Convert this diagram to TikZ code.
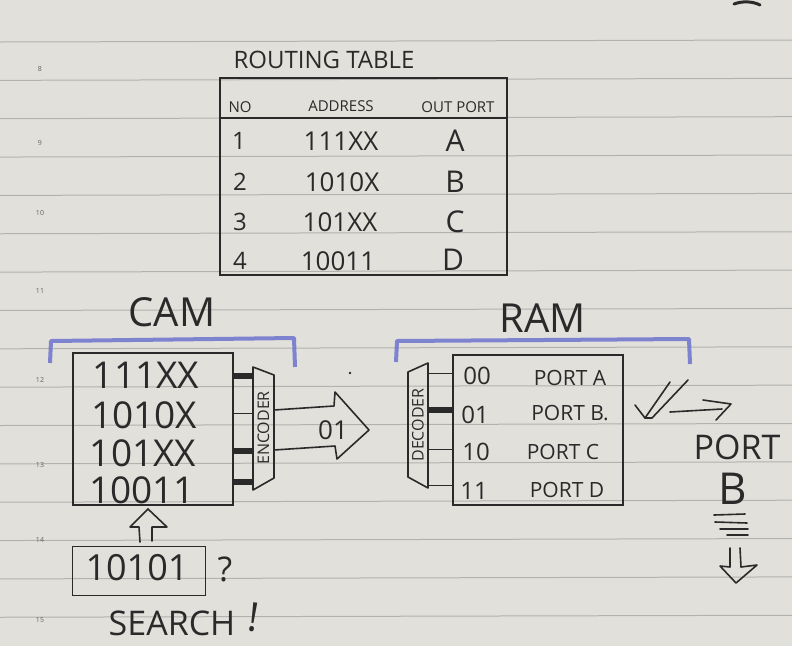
\documentclass[tikz,border=0pt]{standalone}
\usepackage{fontspec}
\setmainfont{Open Sans}
\definecolor{ink}{RGB}{42,42,42}
\definecolor{paper}{RGB}{226,224,219}
\definecolor{rulecol}{RGB}{178,178,174}
\definecolor{markblue}{RGB}{100,108,205}
\newcommand{\fsz}[1]{\fontsize{#1}{#1}\selectfont}
\begin{document}
\begin{tikzpicture}[x=1pt,y=-1pt,
  every node/.style={inner sep=0pt, text=ink},
  inkline/.style={draw=ink, line width=1.6pt, line join=round, line cap=round},
  thinlink/.style={draw=ink, line width=1pt},
  thicklink/.style={draw=ink, line width=6pt},
  bracket/.style={draw=markblue, line width=4pt, line join=round, opacity=0.8},
  rule/.style={draw=rulecol, line width=1pt},
  margin/.style={text=rulecol!55!black, font=\fsz{7}},
  box/.style={draw=ink, line width=1.8pt},
]
\useasboundingbox (0,0) rectangle (792,646);
\fill[paper] (0,0) rectangle (792,646);
\foreach \k in {0,...,15} \draw[rule] (0,{42+38.35*\k}) -- (792,{40+38.35*\k});

% margin numbers
\node[margin] (n8) at (40,69) {8};
\node[margin] (n9) at (40,143) {9};
\node[margin] (n10) at (40,213) {10};
\node[margin] (n11) at (40,291) {11};
\node[margin] (n12) at (40,380) {12};
\node[margin] (n13) at (40,465) {13};
\node[margin] (n14) at (40,540) {14};
\node[margin] (n15) at (40,620) {15};

% stray mark at top right
\draw[ink, line width=3pt, line cap=round] (734,4) .. controls (742,1) and (752,1) .. (760,5);

% routing table
\node (title) at (324,60) {\fsz{24}ROUTING TABLE};
\node[box, minimum width=287pt, minimum height=197pt] (rt) at (363.5,176.5) {};
\draw[box] (rt.west |- 0,118) -- (rt.east |- 0,118);
\node (hno) at (240,107) {\fsz{15}NO};
\node (haddr) at (341,106) {\fsz{15}ADDRESS};
\node (hport) at (458,107) {\fsz{15}OUT PORT};
\node (r1n) at (239,141) {\fsz{24}1};
\node (r2n) at (240,182) {\fsz{24}2};
\node (r3n) at (240,222) {\fsz{24}3};
\node (r4n) at (240,261) {\fsz{24}4};
\node (r1a) at (341,141) {\fsz{26}111XX};
\node (r2a) at (342,182) {\fsz{26}1010X};
\node (r3a) at (340,222) {\fsz{26}101XX};
\node (r4a) at (338,261) {\fsz{26}10011};
\node (r1p) at (455,141) {\fsz{30}A};
\node (r2p) at (455,182) {\fsz{30}B};
\node (r3p) at (455,222) {\fsz{30}C};
\node (r4p) at (453,260) {\fsz{30}D};

% CAM
\node (camlabel) at (172,312) {\fsz{40}CAM};
\draw[bracket] (50,363) -- (51,341) -- (294,338) -- (295,367);
\node[box, minimum width=160pt, minimum height=152pt] (cam) at (153,429) {};
\node (c1) at (146,375) {\fsz{37}111XX};
\node (c2) at (144,415) {\fsz{37}1010X};
\node (c3) at (143,453) {\fsz{37}101XX};
\node (c4) at (142,490) {\fsz{37}10011};

% encoder
\coordinate (e1) at (253,367);
\coordinate (e2) at (274,375);
\coordinate (e3) at (274,478);
\coordinate (e4) at (253,490);
\draw[inkline] (e1) -- (e2) -- (e3) -- (e4) -- cycle;
\node[rotate=90] (enc) at (263.5,428) {\fsz{16}ENCODER};
\draw[thicklink] (cam.east |- 0,376) -- (e1 |- 0,376);
\draw[thinlink]  (cam.east |- 0,413) -- (e1 |- 0,413);
\draw[thicklink] (cam.east |- 0,451) -- (e1 |- 0,451);
\draw[thicklink] (cam.east |- 0,482) -- (e1 |- 0,482);

% search input
\draw[inkline] (148,509) -- (130,527) -- (139,527) -- (140,542);
\draw[inkline] (148,509) -- (167,527) -- (152,527) -- (152,541);
\node[box, line width=1.6pt, minimum width=133pt, minimum height=49pt] (search) at (139,571) {};
\node (key) at (137,568) {\fsz{36}10101};
\node (qm) at (225,569) {\fsz{34}?};
\node (searchtxt) at (172,623) {\fsz{34}SEARCH};
\node[rotate=-8] (excl) at (254,617) {\fsz{40}!};

% big arrow with match index
\draw[inkline] (e2 |- 0,410) -- (334,406) -- (335,392) -- (369,430) -- (337,459) -- (335,446) -- (e2 |- 0,450);
\node (code) at (333,430) {\fsz{26}01};
\fill[ink] (350,373) circle (1.3);

% RAM
\node (ramlabel) at (543,318) {\fsz{40}RAM};
\draw[bracket] (396,362) -- (397,341) -- (689,339) -- (690,364);
\node[box, minimum width=170pt, minimum height=150pt] (ram) at (538,430) {};
\coordinate (d1) at (408,372);
\coordinate (d2) at (428,363);
\coordinate (d3) at (428,488);
\coordinate (d4) at (408,477);
\draw[inkline] (d1) -- (d2) -- (d3) -- (d4) -- cycle;
\node[rotate=90] (dec) at (418,425) {\fsz{16}DECODER};
\draw[thinlink]  (d2 |- 0,373) -- (ram.west |- 0,373);
\draw[thicklink] (d2 |- 0,410) -- (ram.west |- 0,410);
\draw[thinlink]  (d2 |- 0,449) -- (ram.west |- 0,449);
\draw[thinlink]  (d2 |- 0,485) -- (ram.west |- 0,485);
\node (m1) at (477,376) {\fsz{24}00};
\node (m2) at (475,415) {\fsz{24}01};
\node (m3) at (476,452) {\fsz{24}10};
\node (m4) at (474,491) {\fsz{24}11};
\node (p1) at (570,378) {\fsz{21}PORT A};
\node (p2) at (570,413) {\fsz{21}PORT B.};
\node (p3) at (563,452) {\fsz{21}PORT C};
\node (p4) at (567,490) {\fsz{21}PORT D};

% output
\draw[inkline] (635,405) -- (645,418) -- (670,382);
\draw[inkline] (645,418) -- (652,418) -- (688,380);
\draw[inkline] (670,412) -- (722,409);
\draw[inkline] (703,400) -- (731,404) -- (716,420);
\node (outport) at (737,447) {\fsz{34}PORT};
\node (outb) at (733,489) {\fsz{44}B};
\draw[inkline] (714,515) -- (745,514);
\draw[inkline] (715,522) -- (747,523);
\draw[inkline] (720,529) -- (748,529);
\draw[inkline] (727,535) -- (748,535);
\draw[inkline] (730,548) -- (730,567) -- (720,566) -- (736,583) -- (757,565) -- (741,567) -- (740,548);
\end{tikzpicture}
\end{document}
